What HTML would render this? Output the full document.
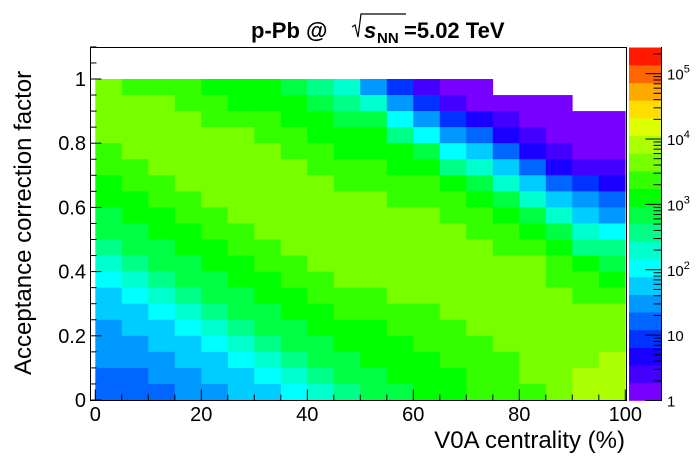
<!DOCTYPE html>
<html><head><meta charset="utf-8">
<style>
html,body{margin:0;padding:0;background:#fff;}
svg{display:block;font-family:"Liberation Sans",Arial,sans-serif;}
</style></head>
<body>
<svg id="chart" width="696" height="472" viewBox="0 0 696 472" xmlns="http://www.w3.org/2000/svg">
  <g id="cells"></g>
  <rect x="90.5" y="47.5" width="536" height="353" fill="none" stroke="#000" stroke-width="1"/>
  <g id="xticks"></g>
  <g id="yticks"></g>
  <g id="palette"></g>
  <text x="625" y="448" font-size="24" text-anchor="end">V0A centrality (%)</text>
  <text transform="translate(31,375) rotate(-90)" font-size="24" text-anchor="start">Acceptance correction factor</text>
  <g font-weight="bold" font-size="22">
    <text x="251" y="38">p-Pb @</text>
    <path d="M352 27 L355 25 L358 37 L361 14 L406 14" fill="none" stroke="#000" stroke-width="1.2"/>
    <text x="364" y="38" font-style="italic">s</text>
    <text x="377" y="43" font-size="15">NN</text>
    <text x="404" y="38">=5.02 TeV</text>
  </g>
</svg>
<script>
// x bins: centrality 0-100 in 5% steps; y bins: 0-1 in 0.05 steps
const xBinEdges = [0,5,10,15,20,25,30,35,40,45,50,55,60,65,70,75,80,85,90,95,100];
const yBinEdges = [0,0.05,0.1,0.15,0.2,0.25,0.3,0.35,0.4,0.45,0.5,0.55,0.6,0.65,0.7,0.75,0.8,0.85,0.9,0.95,1.0];
// color-bin level per cell (-1 = empty); each column lists y from 0.95 down to 0.0
const colLevels = [
 [13,13,13,13,12,12,11,11,10,10,9,8,7,6,6,5,5,5,4,4],
 [12,13,13,13,13,12,12,11,11,10,10,9,8,7,6,6,5,5,4,4],
 [12,13,13,13,13,13,12,12,11,11,10,10,9,8,7,6,6,5,5,4],
 [12,12,13,13,13,13,13,12,12,11,11,10,10,9,8,7,6,6,5,5],
 [11,12,12,13,13,13,13,13,12,12,11,11,10,10,9,8,7,6,6,5],
 [11,11,12,13,13,13,13,13,13,12,12,11,11,10,10,9,8,7,6,6],
 [11,11,12,12,13,13,13,13,13,13,12,12,11,11,10,10,9,8,7,6],
 [10,11,11,12,12,13,13,13,13,13,13,12,12,11,11,10,10,9,8,7],
 [9,10,11,11,12,12,13,13,13,13,13,13,12,12,11,11,10,10,9,8],
 [8,9,10,11,11,12,12,13,13,13,13,13,13,12,12,11,11,10,10,9],
 [5,8,10,11,11,12,12,13,13,13,13,13,13,12,12,11,11,11,10,10],
 [3,5,7,9,11,11,12,12,13,13,13,13,13,13,12,12,11,11,11,10],
 [1,3,5,7,10,11,12,12,13,13,13,13,13,13,12,12,12,11,11,11],
 [0,1,3,5,7,9,11,12,12,13,13,13,13,13,13,12,12,12,11,11],
 [0,0,2,4,6,8,10,11,12,12,13,13,13,13,13,13,12,12,12,12],
 [-1,0,1,2,4,6,8,10,11,12,12,13,13,13,13,13,13,12,12,12],
 [-1,0,0,1,2,4,6,8,10,11,12,13,13,13,13,13,13,13,13,12],
 [-1,0,0,0,1,2,4,6,8,10,11,12,12,13,13,13,13,13,13,13],
 [-1,-1,0,0,0,1,3,5,6,8,9,11,12,12,13,13,13,13,14,14],
 [-1,-1,0,0,0,1,2,4,5,7,9,10,11,12,13,13,13,14,14,14]
];
const paletteColors = ["#7700ff","#4400ff","#1a00ff","#0033ff","#0066ff","#0099ff","#00ccff","#00ffff","#00ffcc","#00ff88","#00ff44","#00ff00","#33ff00","#77ff00","#aaff00","#ddff00","#ffdd00","#ffaa00","#ff6600","#ff1a00"];
const xTickLabels = ["0","20","40","60","80","100"];
const xTickValues = [0,20,40,60,80,100];
const yTickLabels = ["0","0.2","0.4","0.6","0.8","1"];
const yTickValues = [0,0.2,0.4,0.6,0.8,1.0];
const zDecades = [0,1,2,3,4,5];
const zMaxLog = 5.4;

const NS = "http://www.w3.org/2000/svg";
const xScale = v => 95.3 + 5.3 * v;
const yScale = v => 400 - 321 * v;
const zScale = lg => 400.5 - (353 / zMaxLog) * lg;
function mk(tag, attrs, parent){ const e=document.createElementNS(NS,tag); for(const k in attrs) e.setAttribute(k,attrs[k]); parent.appendChild(e); return e; }

const cells = document.getElementById('cells');
colLevels.forEach((col, ci) => {
  col.forEach((lv, ri) => {
    if (lv < 0) return;
    const yi = yBinEdges.length - 2 - ri;
    const x0 = xScale(xBinEdges[ci]), x1 = xScale(xBinEdges[ci+1]);
    const y0 = yScale(yBinEdges[yi+1]), y1 = yScale(yBinEdges[yi]);
    const r = mk('rect', {x:x0, y:y0, width:x1-x0+0.3, height:y1-y0+0.3, fill:paletteColors[Math.min(lv,19)]}, cells);
    
    
  });
});

const xt = document.getElementById('xticks');
for (let v = 0; v <= 100; v += 5) {
  const major = v % 20 === 0;
  mk('line', {x1:xScale(v), x2:xScale(v), y1:400.5, y2:400.5-(major?11:6), stroke:'#000'}, xt);
}
xTickValues.forEach((v,i) => {
  const t = mk('text', {x:xScale(v), y:421, 'font-size':20, 'text-anchor':'middle'}, xt);
  t.textContent = xTickLabels[i];
  
  
});
const yt = document.getElementById('yticks');
for (let k = 0; k <= 22; k++) {
  const v = k * 0.05, major = k % 4 === 0;
  mk('line', {x1:90.5, x2:90.5+(major?11:6), y1:yScale(v), y2:yScale(v), stroke:'#000'}, yt);
}
yTickValues.forEach((v,i) => {
  const t = mk('text', {x:86, y:yScale(v)+7, 'font-size':20, 'text-anchor':'end'}, yt);
  t.textContent = yTickLabels[i];
  
  
});

const pal = document.getElementById('palette');
paletteColors.forEach((c, i) => {
  const y0 = zScale((i+1) * zMaxLog / 20), y1 = zScale(i * zMaxLog / 20);
  const r = mk('rect', {x:629, y:y0, width:32, height:y1-y0+0.3, fill:c}, pal);
  
  
});
mk('line', {x1:661.5, x2:661.5, y1:47, y2:401, stroke:'#000'}, pal);
for (let d = 0; d <= 5; d++) {
  for (let m = 1; m <= 9; m++) {
    const lg = d + Math.log10(m);
    if (lg > zMaxLog) break;
    mk('line', {x1:661.5, x2:661.5-(m===1?16:8), y1:zScale(lg), y2:zScale(lg), stroke:'#000'}, pal);
  }
}
zDecades.forEach(d => {
  const y = zScale(d);
  const t = mk('text', {x:667, y:y+6, 'font-size':15}, pal);
  
  
  if (d === 0) t.textContent = "1";
  else if (d === 1) t.textContent = "10";
  else {
    t.textContent = "10";
    const s = mk('tspan', {dy:-7, 'font-size':11}, t);
    s.textContent = String(d);
  }
});
</script>
</body></html>
